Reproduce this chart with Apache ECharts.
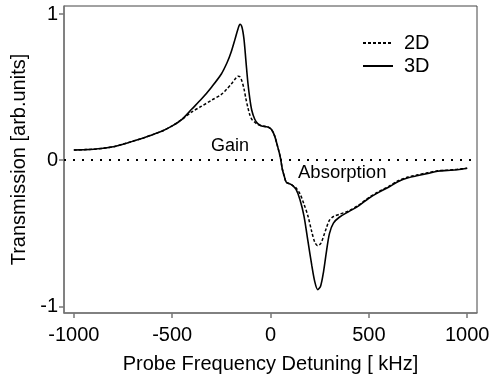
<!DOCTYPE html>
<html>
<head>
<meta charset="utf-8">
<script src="https://cdn.jsdelivr.net/npm/echarts@6/dist/echarts.min.js"></script>
<style>html,body{margin:0;padding:0;background:#fff;}#c{width:494px;height:381px;}</style>
</head>
<body>
<div id="c"></div>
<script>
// Detuning (kHz) and transmission values
var freq3D = [-1000,-950,-900,-850,-800,-750,-700,-650,-600,-550,-500,-450,-400,-350,-300,-250,-220,-200,-180,-165,-155,-145,-135,-125,-115,-105,-95,-80,-65,-45,-25,-10,5,20,35,50,60,70,80,95,110,130,150,170,190,210,225,240,255,270,285,300,320,350,400,450,500,550,600,650,700,750,800,850,900,950,1000];
var val3D  = [0.07,0.072,0.075,0.082,0.092,0.11,0.13,0.15,0.175,0.20,0.235,0.28,0.35,0.42,0.50,0.59,0.67,0.74,0.83,0.90,0.93,0.91,0.83,0.68,0.53,0.42,0.34,0.28,0.25,0.235,0.23,0.225,0.21,0.17,0.10,0.02,-0.06,-0.11,-0.15,-0.16,-0.17,-0.20,-0.27,-0.38,-0.55,-0.72,-0.83,-0.885,-0.86,-0.76,-0.62,-0.50,-0.43,-0.39,-0.35,-0.31,-0.26,-0.22,-0.185,-0.145,-0.12,-0.105,-0.09,-0.075,-0.07,-0.065,-0.055];
var freq2D = [-1000,-950,-900,-850,-800,-750,-700,-650,-600,-550,-500,-450,-400,-350,-300,-250,-220,-200,-180,-165,-155,-145,-135,-125,-115,-105,-95,-80,-65,-45,-25,-10,5,20,35,50,60,70,80,95,110,130,150,170,190,210,225,240,255,270,285,300,320,350,400,450,500,550,600,650,700,750,800,850,900,950,1000];
var val2D  = [0.07,0.072,0.075,0.082,0.092,0.11,0.13,0.15,0.175,0.20,0.235,0.28,0.33,0.37,0.41,0.45,0.49,0.52,0.555,0.575,0.57,0.54,0.49,0.42,0.36,0.31,0.28,0.26,0.245,0.235,0.23,0.225,0.21,0.17,0.10,0.02,-0.06,-0.11,-0.15,-0.16,-0.17,-0.19,-0.23,-0.30,-0.38,-0.49,-0.56,-0.585,-0.57,-0.52,-0.46,-0.41,-0.385,-0.37,-0.345,-0.305,-0.255,-0.215,-0.18,-0.14,-0.115,-0.1,-0.085,-0.072,-0.068,-0.062,-0.055];
var xTicks = [-1000,-500,0,500,1000];
var yTicks = [-1,0,1];
var seriesNames = ['2D','3D'];
var annGain = 'Gain', annAbs = 'Absorption';

function pairs(xs, ys){ return xs.map(function(x,i){return [x, ys[i]];}); }
var FONT = 'Liberation Sans';
var chart = echarts.init(document.getElementById('c'), null, {renderer:'canvas'});
chart.setOption({
  animation:false,
  backgroundColor:'#fff',
  color:['#000','#000'],
  grid:{left:64, top:6, right:17, bottom:68, show:true, borderColor:'#444', borderWidth:1},
  legend:{
    orient:'vertical', left:357, top:28, itemWidth:30, itemHeight:14, itemGap:3,
    data:seriesNames,
    itemStyle:{opacity:0},
    textStyle:{fontFamily:FONT, fontSize:20, color:'#000', padding:[0,0,0,6]}
  },
  xAxis:{
    type:'value', min:-1050, max:1050,
    name:'Probe Frequency Detuning [ kHz]', nameLocation:'middle', nameGap:41,
    nameTextStyle:{fontFamily:FONT, fontSize:20, color:'#000'},
    axisLine:{show:true, onZero:false, lineStyle:{color:'#777', width:1.5}},
    axisTick:{show:true, inside:false, length:5, customValues:xTicks, lineStyle:{color:'#777', width:1.5}},
    axisLabel:{customValues:xTicks, fontFamily:FONT, fontSize:20, color:'#000', margin:12,
      formatter:function(v){return String(v);}},
    splitLine:{show:false}
  },
  yAxis:{
    type:'value', min:-1.045, max:1.055,
    name:'Transmission [arb.units]', nameLocation:'middle', nameGap:30,
    nameTextStyle:{fontFamily:FONT, fontSize:20, color:'#000'},
    axisLine:{show:true, onZero:false, lineStyle:{color:'#777', width:1.5}},
    axisTick:{show:true, inside:false, length:5, customValues:yTicks, lineStyle:{color:'#777', width:1.5}},
    axisLabel:{customValues:yTicks, fontFamily:FONT, fontSize:20, color:'#000', margin:6,
      formatter:function(v){return String(v);}},
    splitLine:{show:false}
  },
  series:[
    {name:seriesNames[0], type:'line', data:pairs(freq2D,val2D), symbol:'none', smooth:0.3,
     itemStyle:{color:'#000'},
     lineStyle:{color:'#000', width:1.5, type:[3,2]}, z:3,
     markLine:{silent:true, symbol:'none', label:{show:false},
       lineStyle:{color:'#000', width:1.8, type:[2,7]}, data:[{yAxis:0}]}},
    {name:seriesNames[1], type:'line', data:pairs(freq3D,val3D), symbol:'none', smooth:0.3,
     itemStyle:{color:'#000'},
     lineStyle:{color:'#000', width:1.6, type:'solid'}, z:4}
  ],
  graphic:[
    {type:'text', left:211, top:137, style:{text:annGain, font:'18px "Liberation Sans"', fill:'#000'}},
    {type:'text', left:298, top:163, style:{text:annAbs, font:'18.5px "Liberation Sans"', fill:'#000'}}
  ]
});
</script>
</body>
</html>
